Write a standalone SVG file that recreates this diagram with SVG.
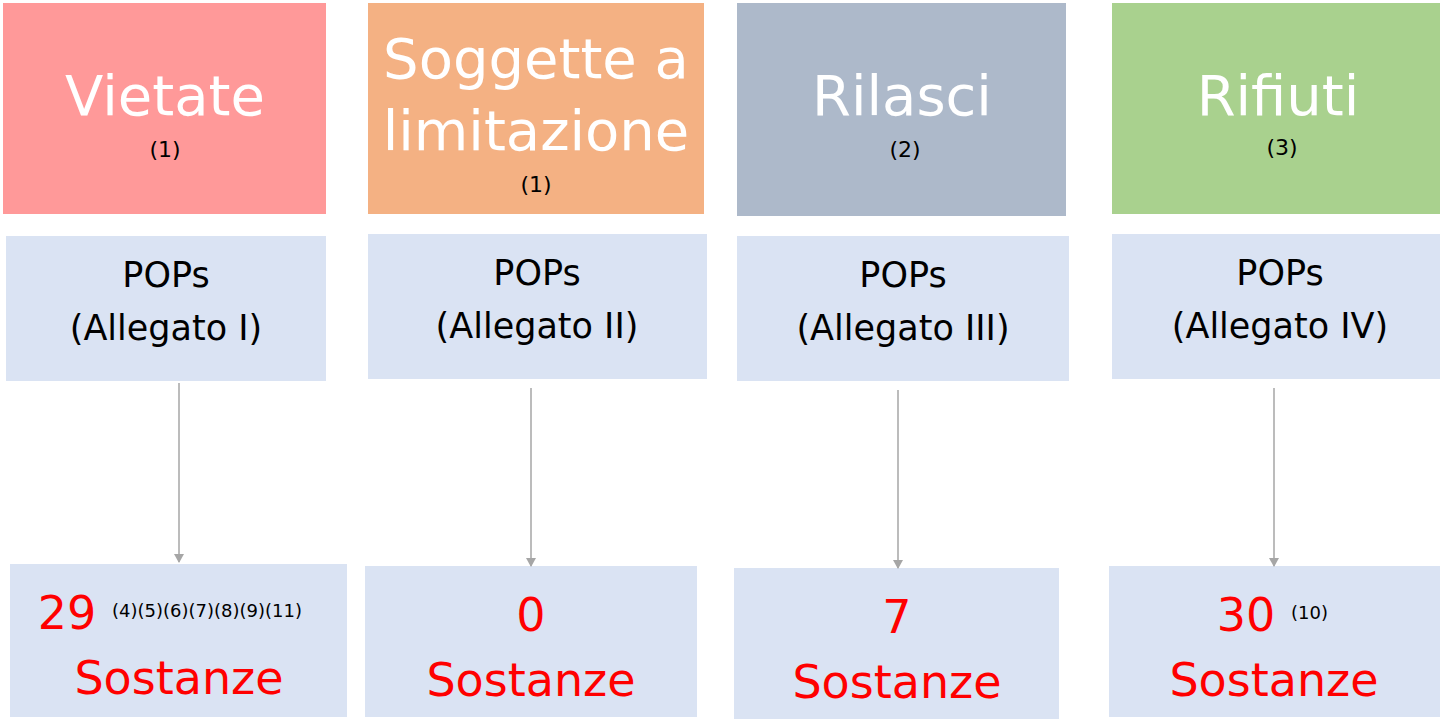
<svg xmlns="http://www.w3.org/2000/svg" width="1442" height="719" viewBox="0 0 1442 719">
<style>
.t{font-family:"DejaVu Sans",Verdana,sans-serif;fill:#fff;font-size:56px;text-anchor:middle}
.s{font-family:"DejaVu Sans",Verdana,sans-serif;fill:#000;font-size:22px;text-anchor:middle}
.p{font-family:"DejaVu Sans",Verdana,sans-serif;fill:#000;font-size:35px;text-anchor:middle}
.r{font-family:"DejaVu Sans",Verdana,sans-serif;fill:#f00;font-size:46px;text-anchor:middle}
.f{font-family:"DejaVu Sans",Verdana,sans-serif;fill:#000;font-size:18px}
.b{fill:#dae3f3}
.c{stroke:#a6a6a6;stroke-width:1.5;fill:none;marker-end:url(#a)}
</style>
<defs><marker id="a" markerWidth="10" markerHeight="10" refX="8" refY="5" orient="auto" markerUnits="userSpaceOnUse"><path d="M0,0L9,5L0,10z" fill="#a6a6a6"/></marker></defs>
<rect width="1442" height="719" fill="#fff"/>
<g id="n1"><rect x="3" y="3" width="323" height="211" fill="#ff9999"/><text class="t" x="165" y="115">Vietate</text><text class="s" x="165" y="157">(1)</text></g>
<g id="n2"><rect x="368" y="3" width="336" height="211" fill="#f4b183"/><text class="t" x="536" y="78">Soggette a</text><text class="t" x="536" y="150">limitazione</text><text class="s" x="536" y="192">(1)</text></g>
<g id="n3"><rect x="737" y="3" width="329" height="213" fill="#adb9ca"/><text class="t" x="902" y="115">Rilasci</text><text class="s" x="905" y="157">(2)</text></g>
<g id="n4"><rect x="1112" y="3" width="328" height="211" fill="#a9d18e"/><text class="t" x="1278" y="115">Rifiuti</text><text class="s" x="1282" y="155">(3)</text></g>
<g id="m1"><rect class="b" x="6" y="236" width="320" height="145"/><text class="p" x="166" y="287">POPs</text><text class="p" x="166" y="340">(Allegato I)</text></g>
<g id="m2"><rect class="b" x="368" y="234" width="339" height="145"/><text class="p" x="537" y="285">POPs</text><text class="p" x="537" y="338">(Allegato II)</text></g>
<g id="m3"><rect class="b" x="737" y="236" width="332" height="145"/><text class="p" x="903" y="287">POPs</text><text class="p" x="903" y="340">(Allegato III)</text></g>
<g id="m4"><rect class="b" x="1112" y="234" width="328" height="145"/><text class="p" x="1280" y="285">POPs</text><text class="p" x="1280" y="338">(Allegato IV)</text></g>
<g id="b1"><rect class="b" x="10" y="564" width="337" height="153"/><text class="r" x="67" y="629">29</text><text class="f" x="112" y="617">(4)(5)(6)(7)(8)(9)(11)</text><text class="r" x="179" y="694">Sostanze</text></g>
<g id="b2"><rect class="b" x="365" y="566" width="332" height="151"/><text class="r" x="531" y="631">0</text><text class="r" x="531" y="696">Sostanze</text></g>
<g id="b3"><rect class="b" x="734" y="568" width="325" height="151"/><text class="r" x="897" y="633">7</text><text class="r" x="897" y="698">Sostanze</text></g>
<g id="b4"><rect class="b" x="1109" y="566" width="331" height="151"/><text class="r" x="1246" y="631">30</text><text class="f" x="1291" y="619">(10)</text><text class="r" x="1274" y="696">Sostanze</text></g>
<g id="connectors">
<path class="c" d="M179,383V562"/>
<path class="c" d="M531,388V566"/>
<path class="c" d="M898,390V568"/>
<path class="c" d="M1274,388V566"/>
</g>
</svg>
